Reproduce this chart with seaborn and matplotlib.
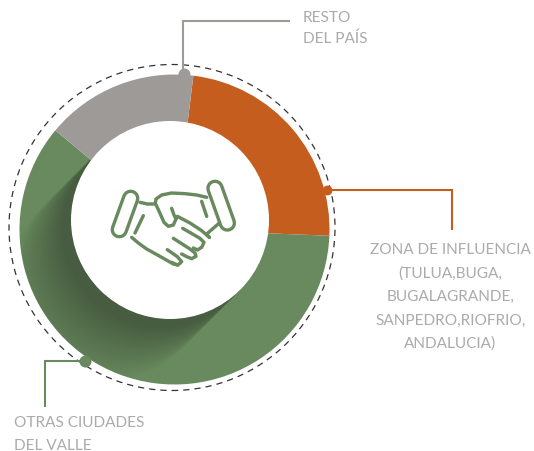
import numpy as np
import matplotlib
matplotlib.use("Agg")
import matplotlib.pyplot as plt
import seaborn as sns
from matplotlib.patches import Circle

categories = ["ZONA DE INFLUENCIA", "OTRAS CIUDADES DEL VALLE", "RESTO DEL PAÍS"]
shares = [23.7, 60.4, 15.9]
colors = ["#C55D1E", "#688A5E", "#9E9A98"]

label_resto = ["RESTO", "DEL PAÍS"]
label_zona = ["ZONA DE INFLUENCIA", "(TULUA,BUGA,", "BUGALAGRANDE,", "SANPEDRO,RIOFRIO,", "ANDALUCIA)"]
label_otras = ["OTRAS CIUDADES", "DEL VALLE"]

W, H = 534, 452
TEXT = "#ABABAB"
ICON = "#688A5E"


def fy(y):
    # picture pixels run downwards, the axes upwards
    return H - y


sns.set_theme(style="white")
plt.rcParams["font.family"] = ["Lato", "DejaVu Sans"]

fig = plt.figure(figsize=(W / 100, H / 100), dpi=100)
ax = fig.add_axes([0, 0, 1, 1])

cx, cy, R = 174.5, 230.5, 155
wedges, _ = ax.pie(shares, colors=sns.color_palette(colors), startangle=83, counterclock=False,
                   center=(cx, fy(cy)), radius=R, wedgeprops={"linewidth": 0})

# long shadow of the centre disc on the green part
hx, hy, hr = 170, 221, 99
xx, yy = np.meshgrid(np.arange(0, W, 0.5), np.arange(0, H, 0.5))
dx, dy = xx - hx, (H - yy) - hy
perp = (dx + dy) / np.sqrt(2)
along = (-dx + dy) / np.sqrt(2)
edge = np.sqrt(np.clip(hr ** 2 - perp ** 2, 0, None))
fade = np.clip(1 - (along - edge) / 88, 0, 1) ** 1.1
fade[(np.abs(perp) > hr) | (along < 0)] = 0
shadow = np.zeros(xx.shape + (4,))
shadow[..., :3] = matplotlib.colors.to_rgb("#475C40")
shadow[..., 3] = np.clip(fade * 1.15, 0, 1)
im = ax.imshow(shadow, origin="lower", extent=(0, W, 0, H), zorder=2, interpolation="bilinear")
im.set_clip_path(wedges[1])

ax.add_patch(Circle((hx, fy(hy)), hr, fc="white", ec="none", zorder=3))
ax.add_patch(Circle((172, fy(228.5)), 163, fc="none", ec="#333333", lw=0.9, ls=(0, (5, 4)), zorder=4))


def leader(xs, ys, color, dot=75):
    ax.plot(xs, [fy(v) for v in ys], color=color, lw=1.5, solid_capstyle="butt",
            solid_joinstyle="miter", zorder=5)
    ax.scatter(xs[0], fy(ys[0]), s=dot, color=color, linewidths=0, zorder=5)


leader([184, 183, 183, 290], [75, 75, 22, 22], colors[2])
leader([327, 451.5, 451.5], [191, 191, 231], colors[0], dot=50)
leader([85, 45, 45], [362, 362, 408], colors[1])


def stack(lines, x, ys, ha):
    for s, y in zip(lines, ys):
        ax.text(x, fy(y), s, color=TEXT, fontsize=11.1, fontweight="normal", ha=ha, va="center", zorder=6)


stack(label_resto, 303, [18, 39], "left")
stack(label_zona, 450.5, [250.5, 274, 297, 321, 344], "center")
stack(label_otras, 14, [423, 446], "left")


# handshake icon, traced on the 3x crop starting at (90, 170)
def icon(pts, lw=3.4, color=ICON):
    pts = np.array(pts, dtype=float)
    ax.plot(90 + pts[:, 0] / 3, fy(170 + pts[:, 1] / 3), color=color, lw=lw * 0.72,
            solid_capstyle="round", solid_joinstyle="round", zorder=7)


for cuff in ([(122, 88), (88, 182)], [(375, 58), (412, 162)]):
    icon(cuff, lw=17.5)
    icon(cuff, lw=10.8, color="white")

strokes = [
    [(150, 100), (172, 105), (195, 105)],
    [(160, 140), (135, 192)],
    [(125, 205), (145, 222), (170, 240), (215, 265), (250, 285), (264, 288), (275, 278), (262, 263), (232, 242)],
    [(245, 280), (262, 288)],
    [(250, 208), (300, 240), (315, 252), (318, 262), (305, 269), (290, 263), (275, 255)],
    [(278, 178), (330, 208), (342, 220), (335, 235), (322, 243), (310, 237)],
    [(350, 85), (320, 78), (285, 74), (245, 72), (215, 78), (198, 90), (196, 103), (205, 122), (222, 160),
     (235, 172), (250, 168), (258, 150), (262, 142), (300, 162), (335, 185), (358, 205)],
    [(245, 118), (252, 138), (258, 150)],
    [(335, 97), (350, 142)],
    [(388, 162), (365, 182), (350, 195), (358, 205)],
]
for s in strokes:
    icon(s)

ax.set_xlim(0, W)
ax.set_ylim(0, H)
ax.set_aspect("equal")
ax.axis("off")

fig.savefig("out.png", dpi=100, facecolor="white")
